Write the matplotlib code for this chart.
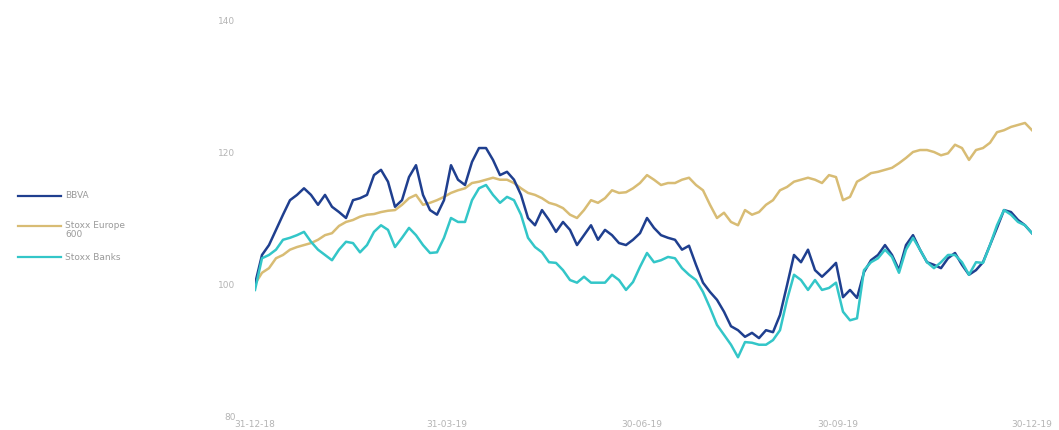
import numpy as np
import pandas as pd
import matplotlib
matplotlib.use("Agg")
import matplotlib.pyplot as plt
from matplotlib.lines import Line2D

# Rebased share price performance, 31-12-18 = 100
bbva = [
    100.0, 104.4, 105.9, 108.2, 110.5, 112.7, 113.5, 114.5, 113.5, 112.0,
    113.5, 111.7, 110.9, 110.0, 112.7, 113.0, 113.5, 116.5, 117.3, 115.5,
    111.7, 112.7, 116.2, 118.0, 113.5, 111.2, 110.5, 112.7, 118.0, 115.8,
    115.0, 118.5, 120.6, 120.6, 118.8, 116.5, 117.0, 115.8, 113.5, 110.0,
    108.9, 111.2, 109.7, 107.9, 109.4, 108.2, 105.9, 107.4, 108.9, 106.7,
    108.2, 107.4, 106.2, 105.9, 106.7, 107.7, 110.0, 108.5, 107.4, 107.0,
    106.7, 105.2, 105.8, 102.9, 100.2, 98.8, 97.6, 95.8, 93.6, 93.0,
    92.0, 92.6, 91.8, 93.0, 92.7, 95.3, 99.8, 104.4, 103.3, 105.2,
    102.1, 101.1, 102.1, 103.2, 98.0, 99.1, 97.9, 101.8, 103.6, 104.4,
    105.9, 104.4, 102.1, 105.9, 107.4, 105.2, 103.3, 102.9, 102.4, 103.9,
    104.7, 102.9, 101.4, 102.1, 103.3, 105.9, 108.5, 111.2, 110.9, 109.7,
    108.9, 107.7,
]

stoxx_europe_600 = [
    100.0, 101.7, 102.4, 103.9, 104.4, 105.2, 105.6, 105.9, 106.2, 106.7,
    107.4, 107.7, 108.8, 109.4, 109.7, 110.2, 110.5, 110.6, 110.9, 111.1,
    111.2, 112.0, 113.0, 113.5, 112.0, 112.3, 112.7, 113.2, 113.8, 114.2,
    114.5, 115.3, 115.5, 115.8, 116.1, 115.8, 115.8, 115.3, 114.5, 113.8,
    113.5, 113.0, 112.3, 112.0, 111.5, 110.5, 110.0, 111.2, 112.7, 112.3,
    113.0, 114.2, 113.8, 113.9, 114.5, 115.3, 116.5, 115.8, 115.0, 115.3,
    115.3, 115.8, 116.1, 115.0, 114.2, 112.0, 110.0, 110.8, 109.4, 108.9,
    111.2, 110.5, 110.9, 112.0, 112.7, 114.2, 114.7, 115.5, 115.8, 116.1,
    115.8, 115.3, 116.5, 116.2, 112.7, 113.2, 115.5, 116.1, 116.8, 117.0,
    117.3, 117.6, 118.3, 119.1, 120.0, 120.3, 120.3, 120.0, 119.5, 119.8,
    121.1, 120.6, 118.8, 120.3, 120.6, 121.4, 123.0, 123.3, 123.8, 124.1,
    124.4, 123.3,
]

stoxx_banks = [
    99.1, 103.9, 104.4, 105.2, 106.7, 107.0, 107.4, 107.9, 106.4, 105.2,
    104.4, 103.6, 105.2, 106.4, 106.2, 104.8, 105.9, 107.9, 108.9, 108.2,
    105.6, 107.0, 108.5, 107.4, 105.9, 104.7, 104.8, 107.0, 110.0, 109.4,
    109.4, 112.7, 114.5, 115.0, 113.5, 112.3, 113.2, 112.7, 110.5, 107.0,
    105.6, 104.8, 103.3, 103.2, 102.1, 100.6, 100.2, 101.1, 100.2, 100.2,
    100.2, 101.4, 100.6, 99.1, 100.3, 102.6, 104.7, 103.3, 103.6, 104.1,
    103.9, 102.4, 101.4, 100.6, 98.8, 96.4, 93.8, 92.3, 90.8, 88.9,
    91.2, 91.1, 90.8, 90.8, 91.5, 93.0, 97.6, 101.4, 100.6, 99.1,
    100.6, 99.1, 99.4, 100.2, 95.8, 94.5, 94.8, 102.1, 103.3, 103.9,
    105.2, 104.1, 101.7, 105.2, 107.0, 105.2, 103.3, 102.4, 103.3, 104.4,
    104.4, 103.3, 101.4, 103.3, 103.2, 105.9, 108.9, 111.2, 110.5, 109.4,
    108.9, 107.7,
]

start_date, end_date = "2018-12-31", "2019-12-30"
tick_dates = ["2018-12-31", "2019-03-31", "2019-06-30", "2019-09-30", "2019-12-30"]
tick_labels = ["31-12-18", "31-03-19", "30-06-19", "30-09-19", "30-12-19"]
y_ticks = [80, 100, 120, 140]

series_names = ["BBVA", "Stoxx Europe\n600", "Stoxx Banks"]
series_values = [bbva, stoxx_europe_600, stoxx_banks]
colors = ["#1f3f8f", "#d8bc74", "#33c6c8"]

dates = pd.date_range(start_date, end_date, periods=len(bbva))

W, H = 1059, 430
fig = plt.figure(figsize=(W / 100, H / 100), dpi=100)
ax = fig.add_axes([255 / W, 1 - 416 / H, (1032 - 255) / W, (416 - 20) / H])

text_grey = "#b4b4b4"
lw = 1.8
# Europe 600 underneath, then BBVA, then Banks on top
for idx, z in zip([1, 0, 2], [2, 3, 4]):
    ax.plot(dates, series_values[idx], color=colors[idx], lw=lw, zorder=z)

ax.set_xlim(pd.Timestamp(start_date), pd.Timestamp(end_date))
ax.set_ylim(80, 140)
ax.set_xticks(pd.to_datetime(tick_dates))
ax.set_xticklabels(tick_labels)
ax.set_yticks(y_ticks)
ax.tick_params(axis="both", length=0, labelsize=6.5, labelcolor=text_grey)
ax.tick_params(axis="x", pad=3)
ax.tick_params(axis="y", pad=14)
for s in ax.spines.values():
    s.set_visible(False)

# Legend drawn on the left margin
legend_y = [196, 226, 257]
for ypx, name, col in zip(legend_y, series_names, colors):
    yf = 1 - ypx / H
    fig.add_artist(Line2D([18 / W, 61 / W], [yf, yf], color=col, lw=1.6,
                          transform=fig.transFigure))
    if "\n" in name:
        fig.text(65 / W, yf + 5 / H, name, fontsize=6.5, color="#9a9a9a",
                 va="top", ha="left", linespacing=0.95)
    else:
        fig.text(65 / W, yf, name, fontsize=6.5, color="#9a9a9a",
                 va="center", ha="left")

fig.savefig("out.png", dpi=100)
